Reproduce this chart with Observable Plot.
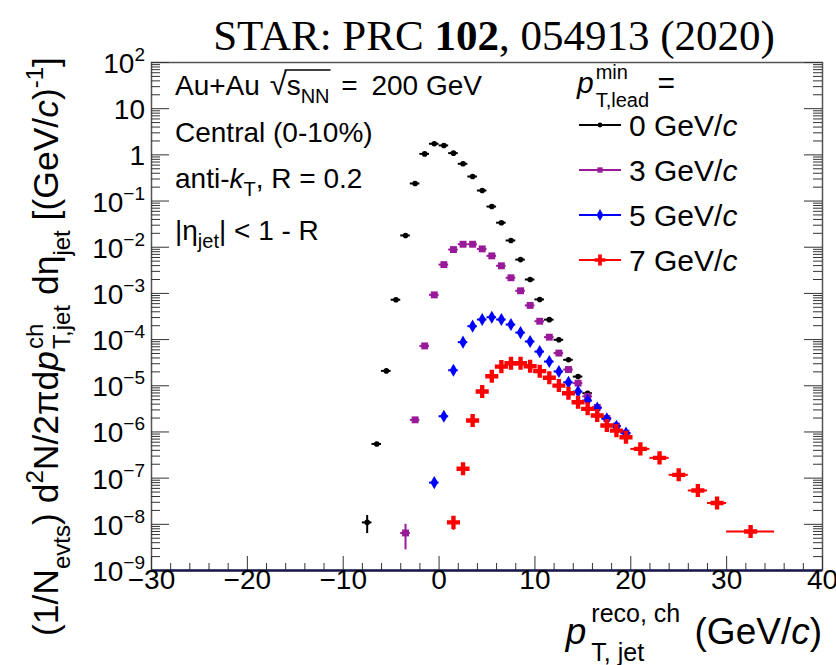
<!DOCTYPE html>
<html><head><meta charset="utf-8">
<script src="https://cdn.jsdelivr.net/npm/d3@7"></script>
<script src="https://cdn.jsdelivr.net/npm/@observablehq/plot@0.6"></script>
<style>
html,body{margin:0;padding:0;background:#fff;}
#chart{width:836px;height:665px;}
</style></head><body><div id="chart"></div>
<script>
// ---------------- data ----------------
const titleText = ["STAR: PRC ", "102", ", 054913 (2020)"];
const seriesLabels = ["0 GeV/", "3 GeV/", "5 GeV/", "7 GeV/"];
const seriesKeys = ["0", "3", "5", "7"];

const binHalfWidth = 0.5; // 1 GeV/c bins

const blackX = [-7.5,-6.5,-5.5,-4.5,-3.5,-2.5,-1.5,-0.5,0.5,1.5,2.5,3.5,4.5,5.5,6.5,7.5,8.5,9.5,10.5,11.5,12.5,13.5,14.5,15.5,16.5,17.5,18.5,19.5];
const blackY = [1.1e-8,5.5e-7,2.1e-5,7.3e-4,1.8e-2,0.24,1.05,1.74,1.60,1.09,0.64,0.34,0.169,0.076,0.034,0.014,5.4e-3,2.0e-3,7.4e-4,2.7e-4,9.9e-5,3.65e-5,1.58e-5,6.9e-6,3.4e-6,2.0e-6,1.35e-6,9.5e-7];

const purpleX = [-3.5,-2.5,-1.5,-0.5,0.5,1.5,2.5,3.5,4.5,5.5,6.5,7.5,8.5,9.5,10.5,11.5,12.5,13.5,14.5,15.5,16.5,17.5,18.5,19.5];
const purpleY = [6.5e-9,1.83e-6,7.3e-5,9.3e-4,4.2e-3,8.9e-3,0.0116,0.0116,9.2e-3,6.5e-3,3.96e-3,2.18e-3,1.14e-3,5.5e-4,2.5e-4,1.13e-4,5.1e-5,2.25e-5,1.14e-5,5.9e-6,3.4e-6,1.95e-6,1.35e-6,9.4e-7];

const blueX = [-0.5,0.5,1.5,2.5,3.5,4.5,5.5,6.5,7.5,8.5,9.5,10.5,11.5,12.5,13.5,14.5,15.5,16.5,17.5,18.5,19.5];
const blueY = [8.0e-8,2.19e-6,2.17e-5,8.8e-5,1.95e-4,2.72e-4,3.05e-4,2.72e-4,2.12e-4,1.42e-4,9.1e-5,5.5e-5,3.35e-5,2.04e-5,1.19e-5,7.5e-6,4.8e-6,3.3e-6,1.93e-6,1.33e-6,9.4e-7];

const redX = [1.5,2.5,3.5,4.5,5.5,6.5,7.5,8.5,9.5,10.5,11.5,12.5,13.5,14.5,15.5,16.5,17.5,18.5,19.5,21,23,25,27,29,32.5];
const redHalfWidth = [0.5,0.5,0.5,0.5,0.5,0.5,0.5,0.5,0.5,0.5,0.5,0.5,0.5,0.5,0.5,0.5,0.5,0.5,0.5,1,1,1,1,1,2.5];
const redY = [1.1e-8,1.6e-7,1.77e-6,7.5e-6,1.61e-5,2.6e-5,3.08e-5,3.08e-5,2.65e-5,2.07e-5,1.49e-5,1.01e-5,6.9e-6,4.4e-6,3.17e-6,2.27e-6,1.38e-6,1.07e-6,7.7e-7,4.3e-7,2.75e-7,1.18e-7,5.4e-8,2.9e-8,7.0e-9];

// visible vertical error bars
const errKey = ["0", "3", "7"];
const errX   = [-7.5, -3.5, 1.5];
const errLo  = [6.3e-9, 2.8e-9, 7.4e-9];
const errHi  = [1.55e-8, 1.0e-8, 1.35e-8];

// ticks
const xMajor = [-30,-20,-10,0,10,20,30,40];
const xTickLabels = ["\u221230","\u221220","\u221210","0","10","20","30","40"];
const xMinor = [-28,-26,-24,-22,-18,-16,-14,-12,-8,-6,-4,-2,2,4,6,8,12,14,16,18,22,24,26,28,32,34,36,38];
const yMajor = [1e-9,1e-8,1e-7,1e-6,1e-5,1e-4,1e-3,1e-2,1e-1,1,10,100];
const yTickBase = ["10","10","10","10","10","10","10","10","10","1","10","10"];
const yTickExp  = ["\u22129","\u22128","\u22127","\u22126","\u22125","\u22124","\u22123","\u22122","\u22121","","","2"];
const yMinorMult = [2,3,4,5,6,7,8,9];

// ---------------- styles ----------------
const W = 836, H = 665;
const mL = 151, mR = 14, mT = 62, mB = 95;
const FW = W - mL - mR, FH = H - mT - mB;
const style = {
  "0": {color: "#000000", symbol: "circle", r: 2.8, lr: 2.4},
  "3": {color: "#991a99", symbol: "square", r: 3.9, lr: 3},
  "5": {color: "#0000ff", symbol: "diamond", r: 4, lr: 3.6},
  "7": {color: "#ff0000", symbol: "cross", r: 5.5, lr: 4.6}
};

function rows(xs, ys, halves, key) {
  return xs.map((x, i) => {
    const h = halves ? halves[i] : binHalfWidth;
    return {x, y: ys[i], lo: x - h, hi: x + h, key};
  });
}
const seriesRows = {
  "0": rows(blackX, blackY, null, "0"),
  "3": rows(purpleX, purpleY, null, "3"),
  "5": rows(blueX, blueY, null, "5"),
  "7": rows(redX, redY, redHalfWidth, "7")
};
const errRows = errX.map((x, i) => ({x, lo: errLo[i], hi: errHi[i], key: errKey[i]}));

const yMinor = [];
for (const d of yMajor.slice(0, -1)) for (const m of yMinorMult) yMinor.push(d * m);

const marks = [
  Plot.frame({stroke: "#555", strokeWidth: 1.5}),
  Plot.tickX(xMinor, {x: d => d, insetTop: FH - 7, stroke: "#333", strokeWidth: 1}),
  Plot.tickX(xMajor, {x: d => d, insetTop: FH - 14, stroke: "#333", strokeWidth: 1}),
  Plot.tickY(yMinor, {y: d => d, insetRight: FW - 9, stroke: "#333", strokeWidth: 1}),
  Plot.tickY(yMinor, {y: d => d, insetLeft: FW - 9, stroke: "#333", strokeWidth: 1}),
  Plot.tickY(yMajor, {y: d => d, insetRight: FW - 18, stroke: "#333", strokeWidth: 1}),
  Plot.tickY(yMajor, {y: d => d, insetLeft: FW - 18, stroke: "#333", strokeWidth: 1}),
  Plot.ruleY([1e-9], {stroke: "#1a1a50", strokeWidth: 2.5}),
  Plot.text(xMajor, {x: d => d, frameAnchor: "bottom", dy: 18, text: (d, i) => xTickLabels[i], fontSize: 28, fill: "#000"})
];
for (const k of seriesKeys) {
  const s = style[k];
  marks.push(Plot.ruleX(errRows.filter(d => d.key === k), {x: "x", y1: "lo", y2: "hi", stroke: s.color, strokeWidth: 2}));
  marks.push(Plot.ruleY(seriesRows[k], {y: "y", x1: "lo", x2: "hi", stroke: s.color, strokeWidth: 2}));
  marks.push(Plot.dot(seriesRows[k], {x: "x", y: "y", symbol: s.symbol, r: s.r, fill: s.color, stroke: "none"}));
}

const plot = Plot.plot({
  width: W, height: H,
  marginLeft: mL, marginRight: mR, marginTop: mT, marginBottom: mB,
  x: {domain: [-30, 40], axis: null},
  y: {type: "log", domain: [1e-9, 1e2], axis: null},
  style: {fontFamily: "Liberation Sans, Arial, sans-serif", fontSize: "28px", background: "#fff", overflow: "visible"},
  marks
});
document.getElementById("chart").appendChild(plot);
const svg = d3.select(plot);
const yS = plot.scale("y");

// ---------------- rich text helper ----------------
function rich(parts, o) {
  const g = svg.append("g").attr("transform", `translate(${o.x},${o.y}) rotate(${o.rotate || 0})`)
    .attr("text-anchor", "start");
  const inner = g.append("g");
  let cursor = 0, prevStart = 0, overStart = null, overEnd = -Infinity;
  for (const p of parts) {
    const fs = p.s || o.size;
    const t = inner.append("text")
      .attr("text-anchor", "start")
      .attr("y", p.dy || 0)
      .attr("font-size", fs)
      .attr("font-family", p.f || o.family || "Liberation Sans, Arial, sans-serif")
      .attr("font-style", p.i ? "italic" : null)
      .attr("font-weight", p.b ? "bold" : null)
      .attr("fill", "#000")
      .style("white-space", "pre")
      .text(p.t);
    const w = t.node().getComputedTextLength();
    const start = p.stack ? prevStart : cursor + (p.dx || 0);
    t.attr("x", start);
    cursor = p.stack ? Math.max(cursor, start + w) : start + w;
    prevStart = start;
    if (p.over) { if (overStart === null) overStart = start; overEnd = Math.max(overEnd, start + w); }
  }
  if (overStart !== null) {
    inner.append("line").attr("x1", overStart - 2).attr("x2", overEnd + 1)
      .attr("y1", o.overY).attr("y2", o.overY).attr("stroke", "#000").attr("stroke-width", 1.4);
  }
  const shift = o.anchor === "end" ? -cursor : o.anchor === "middle" ? -cursor / 2 : 0;
  inner.attr("transform", `translate(${shift},0)`);
}

// y tick labels
yMajor.forEach((v, i) => {
  const parts = [{t: yTickBase[i]}];
  if (yTickExp[i]) parts.push({t: yTickExp[i], s: 19, dy: -12});
  rich(parts, {x: 145, y: yS.apply(v) + 11, size: 28, anchor: "end"});
});

// title
rich([{t: titleText[0]}, {t: titleText[1], b: true}, {t: titleText[2]}],
  {x: 494, y: 50, size: 43, family: "Liberation Serif, Times New Roman, serif", anchor: "middle"});

// x-axis title
rich([{t: "p", i: true}, {t: "reco, ch", s: 25, dy: -22, dx: 5}, {t: "T, jet", s: 25, dy: 17, stack: true},
      {t: " (GeV/", dx: 4}, {t: "c", i: true}, {t: ")"}],
  {x: 822, y: 644, size: 37, anchor: "end"});

// y-axis title
rich([{t: "(1/N"}, {t: "evts", s: 24, dy: 12}, {t: ") d"}, {t: "2", s: 24, dy: -15}, {t: "N/2\u03c0d"},
      {t: "p", i: true}, {t: "ch", s: 24, dy: -15, dx: 2}, {t: "T,jet", s: 24, dy: 12, stack: true},
      {t: " d\u03b7"}, {t: "jet", s: 24, dy: 12}, {t: " [(GeV/"}, {t: "c", i: true}, {t: ")"},
      {t: "-1", s: 24, dy: -15}, {t: "]"}],
  {x: 58, y: 57, size: 35.5, anchor: "end", rotate: -90});

// inset text
rich([{t: "Au+Au "}, {t: "\u221a", s: 31, dx: 2}, {t: "s", over: true}, {t: "NN", s: 20, dy: 8, over: true},
      {t: " = ", dx: 4}, {t: "200 GeV", dx: 6}],
  {x: 175, y: 95, size: 28, overY: -25});
rich([{t: "Central (0-10%)"}], {x: 175, y: 141.5, size: 28});
rich([{t: "anti-"}, {t: "k", i: true}, {t: "T", s: 20, dy: 8}, {t: ", R = 0.2"}], {x: 175, y: 188, size: 28});
rich([{t: "|\u03b7"}, {t: "jet", s: 20, dy: 8}, {t: "| < 1 - R"}], {x: 175, y: 240, size: 28});

// legend
rich([{t: "p", i: true}, {t: "min", s: 20, dy: -14, dx: 2}, {t: "T,lead", s: 20, dy: 14, stack: true}, {t: " ="}],
  {x: 577, y: 93, size: 30});
const legY = [125, 170, 215, 260];
const symMap = {circle: d3.symbolCircle, square: d3.symbolSquare, diamond: d3.symbolDiamond, cross: d3.symbolCross};
seriesKeys.forEach((k, i) => {
  const s = style[k];
  const lg = svg.append("g").attr("transform", `translate(600,${legY[i]})`);
  lg.append("line").attr("x1", -21).attr("x2", 21).attr("stroke", s.color).attr("stroke-width", 2);
  lg.append("path").attr("d", d3.symbol(symMap[s.symbol], Math.PI * s.lr * s.lr)()).attr("fill", s.color);
  rich([{t: seriesLabels[i]}, {t: "c", i: true}], {x: 629, y: legY[i] + 11, size: 30});
});
</script></body></html>
